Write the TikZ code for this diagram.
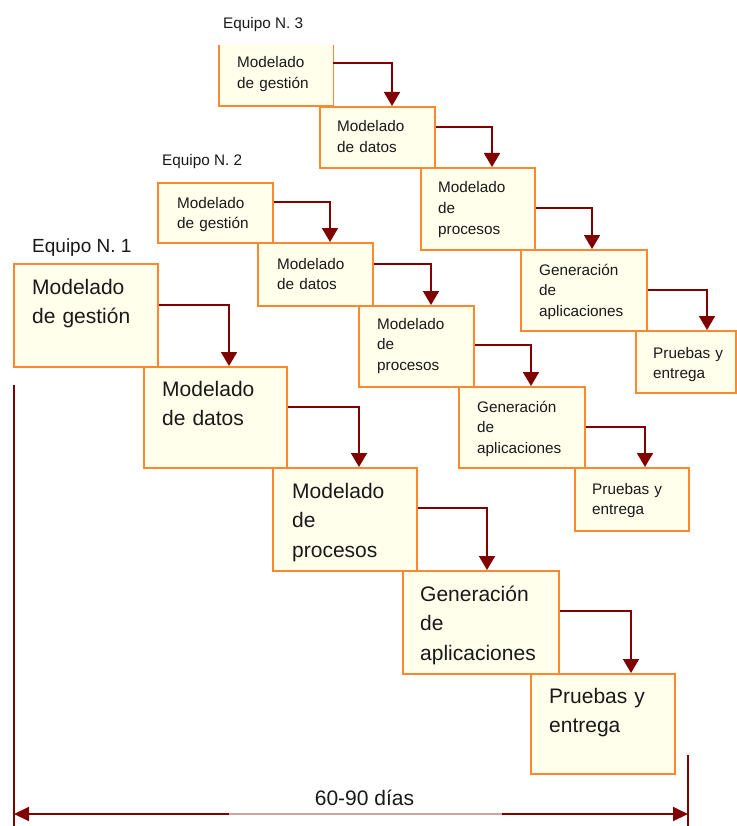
\documentclass[tikz,border=0pt]{standalone}
\usepackage{fontspec}
\setmainfont{Liberation Sans}
\usetikzlibrary{arrows.meta,calc}
\definecolor{boxline}{RGB}{255,135,45}
\definecolor{boxfill}{RGB}{255,255,236}
\definecolor{flow}{RGB}{128,0,0}
\definecolor{flowlight}{RGB}{204,165,165}
\definecolor{ink}{RGB}{25,25,25}

\begin{document}
\begin{tikzpicture}[x=1pt,y=-1pt,
  stage/.style={draw=boxline, fill=boxfill, line width=1.8pt, inner sep=0pt, anchor=north west},
  stagefill/.style={fill=boxfill, inner sep=0pt, anchor=north west},
  bigtxt/.style={font=\fontsize{21}{29.5}\selectfont, text=ink, inner sep=0pt,
                 text width=150pt, align=left, anchor=base west},
  smalltxt/.style={font=\fontsize{15.3}{20.7}\selectfont, text=ink, inner sep=0pt,
                   text width=120pt, align=left, anchor=base west},
  conn/.style={draw=flow, line width=1.8pt, -{Triangle[width=16pt,length=14pt]}},
  dimline/.style={draw=flow, line width=2.4pt},
 ]
\useasboundingbox[fill=white] (0,0) rectangle (736,826);

% ---- Equipo N. 1 ----
\node[stage, minimum width=144pt, minimum height=103pt] (b1) at (13,263) {};
\node[stage, minimum width=143pt, minimum height=101pt] (b2) at (143,366) {};
\node[stage, minimum width=144pt, minimum height=103pt] (b3) at (272,467) {};
\node[stage, minimum width=156pt, minimum height=103pt] (b4) at (402,570) {};
\node[stage, minimum width=144pt, minimum height=100pt] (b5) at (530,673) {};

% ---- Equipo N. 2 ----
\node[stage, minimum width=115pt, minimum height=60pt] (c1) at (157,182) {};
\node[stage, minimum width=115pt, minimum height=63pt] (c2) at (257,242) {};
\node[stage, minimum width=115pt, minimum height=81pt] (c3) at (358,305) {};
\node[stage, minimum width=126pt, minimum height=81pt] (c4) at (458,386) {};
\node[stage, minimum width=114pt, minimum height=63pt] (c5) at (574,467) {};

% ---- Equipo N. 3 ----
\node[stagefill, minimum width=114pt, minimum height=61pt] (d1) at (219,45) {};
\draw[draw=boxline, line width=1.8pt] (d1.north west) -- (d1.south west) -- (d1.south east) -- (d1.north east);
\node[stage, minimum width=115pt, minimum height=61pt] (d2) at (319,106) {};
\node[stage, minimum width=114pt, minimum height=82pt] (d3) at (420,167) {};
\node[stage, minimum width=126pt, minimum height=81pt] (d4) at (520,249) {};
\node[stage, minimum width=100pt, minimum height=62pt] (d5) at (635,330) {};

% ---- team labels ----
\node[font=\fontsize{19}{19}\selectfont, text=ink, inner sep=0pt, anchor=base west] (eq1) at (32,252) {Equipo N. 1};
\node[font=\fontsize{15.3}{15.3}\selectfont, text=ink, inner sep=0pt, anchor=base west] (eq2) at (162,166) {Equipo N. 2};
\node[font=\fontsize{15.3}{15.3}\selectfont, text=ink, inner sep=0pt, anchor=base west] (eq3) at (223,29) {Equipo N. 3};

% ---- stage texts ----
\node[bigtxt] (tb1) at (32,294) {Modelado\\de gestión};
\node[bigtxt] (tb2) at (162,396) {Modelado\\de datos};
\node[bigtxt] (tb3) at (292,498) {Modelado\\de\\procesos};
\node[bigtxt] (tb4) at (420,601) {Generación\\de\\aplicaciones};
\node[bigtxt] (tb5) at (549,703) {Pruebas y\\entrega};

\node[smalltxt] (tc1) at (177,208) {Modelado\\de gestión};
\node[smalltxt] (tc2) at (277,269) {Modelado\\de datos};
\node[smalltxt] (tc3) at (377,329) {Modelado\\de\\procesos};
\node[smalltxt] (tc4) at (477,412) {Generación\\de\\aplicaciones};
\node[smalltxt] (tc5) at (592,494) {Pruebas y\\entrega};

\node[smalltxt] (td1) at (237,68) {Modelado\\de gestión};
\node[smalltxt] (td2) at (337,132) {Modelado\\de datos};
\node[smalltxt] (td3) at (438,193) {Modelado\\de\\procesos};
\node[smalltxt] (td4) at (539,275) {Generación\\de\\aplicaciones};
\node[smalltxt] (td5) at (653,358) {Pruebas y\\entrega};

% ---- flow connectors ----
\draw[conn] (b1.east |- 0,305) -| (229,0 |- b2.north);
\draw[conn] (b2.east |- 0,407) -| (359,0 |- b3.north);
\draw[conn] (b3.east |- 0,508) -| (487,0 |- b4.north);
\draw[conn] (b4.east |- 0,611) -| (631,0 |- b5.north);

\draw[conn] (c1.east |- 0,202) -| (330,0 |- c2.north);
\draw[conn] (c2.east |- 0,264) -| (431,0 |- c3.north);
\draw[conn] (c3.east |- 0,345) -| (531,0 |- c4.north);
\draw[conn] (c4.east |- 0,427) -| (645,0 |- c5.north);

\draw[conn] (d1.east |- 0,63) -| (392,0 |- d2.north);
\draw[conn] (d2.east |- 0,127) -| (492,0 |- d3.north);
\draw[conn] (d3.east |- 0,208) -| (592,0 |- d4.north);
\draw[conn] (d4.east |- 0,290) -| (707,0 |- d5.north);

% ---- time span ----
\coordinate (dimL) at (14,385);
\coordinate (dimLb) at (14,826);
\coordinate (dimR) at (688,755);
\coordinate (dimRb) at (688,826);
\coordinate (spanL) at (14,814);
\coordinate (spanR) at (688,814);
\coordinate (fadeL) at (229,814);
\coordinate (fadeR) at (502,814);
\draw[dimline] (dimL) -- (dimLb);
\draw[dimline] (dimR) -- (dimRb);
\draw[draw=flow, line width=1.8pt, {Triangle[width=14pt,length=15pt]}-{Triangle[width=14pt,length=15pt]}] (spanL) -- (spanR);
\draw[draw=flowlight, line width=1.8pt] (fadeL) -- (fadeR);
\node[font=\fontsize{21}{21}\selectfont, text=ink, inner sep=0pt, anchor=base] (span) at (364.5,805) {60-90 días};
\end{tikzpicture}
\end{document}
